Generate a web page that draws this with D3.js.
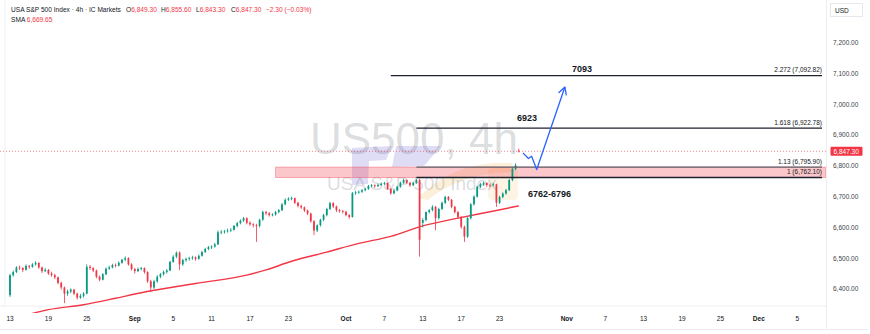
<!DOCTYPE html>
<html>
<head>
<meta charset="utf-8">
<script src="https://cdn.jsdelivr.net/npm/d3@7"></script>
<style>
  html, body { margin: 0; padding: 0; background: #fff; }
  svg { display: block; font-family: "Liberation Sans", Arial, sans-serif; }
</style>
</head>
<body>
<svg id="chart" width="870" height="334"></svg>
<script>
// 4h bars (3 per trading day from Aug 13): [open, high, low, close]
var candles = [
  [6380,6450,6374,6445],[6445,6460,6440,6455],[6455,6474,6452,6470],[6470,6476,6462,6468],
  [6468,6471,6455,6462],[6462,6480,6460,6475],[6475,6478,6465,6472],[6472,6484,6469,6480],
  [6480,6490,6476,6485],[6485,6487,6466,6470],[6470,6473,6452,6458],[6458,6468,6455,6462],
  [6462,6465,6446,6450],[6450,6456,6440,6445],[6445,6450,6432,6438],[6438,6440,6415,6420],
  [6420,6424,6398,6405],[6405,6408,6354,6385],[6385,6398,6378,6392],[6392,6402,6386,6398],
  [6398,6400,6380,6385],[6385,6388,6366,6372],[6372,6384,6368,6378],[6378,6390,6372,6385],
  [6385,6480,6383,6472],[6472,6478,6462,6468],[6468,6471,6455,6460],[6460,6463,6435,6440],
  [6440,6444,6425,6430],[6430,6452,6428,6448],[6448,6470,6445,6466],[6466,6476,6462,6470],
  [6470,6482,6467,6478],[6478,6483,6470,6476],[6476,6490,6473,6485],[6485,6498,6482,6495],
  [6495,6506,6490,6500],[6500,6503,6476,6480],[6480,6484,6460,6465],[6465,6468,6450,6458],
  [6458,6470,6455,6465],[6465,6472,6460,6468],[6468,6470,6450,6455],[6455,6458,6420,6425],
  [6425,6430,6391,6405],[6405,6430,6400,6425],[6425,6445,6420,6440],[6440,6452,6435,6448],
  [6448,6460,6444,6455],[6455,6465,6450,6460],[6460,6492,6458,6488],[6488,6510,6485,6505],
  [6505,6522,6500,6518],[6518,6522,6461,6480],[6480,6498,6475,6494],[6494,6502,6488,6498],
  [6498,6505,6492,6500],[6500,6508,6495,6503],[6503,6506,6492,6498],[6498,6512,6495,6508],
  [6508,6524,6505,6520],[6520,6534,6517,6530],[6530,6540,6526,6536],[6536,6542,6530,6538],
  [6538,6550,6534,6545],[6545,6590,6543,6584],[6584,6592,6578,6586],[6586,6592,6580,6587],
  [6587,6596,6583,6590],[6590,6598,6585,6592],[6592,6608,6590,6605],[6605,6618,6600,6614],
  [6614,6626,6610,6622],[6622,6634,6618,6630],[6630,6633,6610,6615],[6615,6620,6605,6610],
  [6610,6614,6600,6607],[6607,6612,6553,6605],[6605,6628,6600,6625],[6625,6655,6622,6650],
  [6650,6654,6640,6646],[6646,6650,6635,6640],[6640,6646,6636,6642],[6642,6654,6638,6650],
  [6650,6660,6646,6656],[6656,6679,6653,6675],[6675,6694,6672,6690],[6690,6698,6686,6694],
  [6694,6700,6688,6695],[6695,6697,6676,6680],[6680,6683,6665,6670],[6670,6674,6660,6665],
  [6665,6668,6650,6655],[6655,6658,6640,6645],[6645,6648,6615,6620],[6620,6624,6575,6590],
  [6590,6610,6585,6607],[6607,6628,6603,6625],[6625,6644,6620,6640],[6640,6664,6636,6660],
  [6660,6683,6656,6679],[6679,6682,6663,6668],[6668,6671,6650,6656],[6656,6660,6648,6653],
  [6653,6657,6645,6651],[6651,6654,6636,6640],[6640,6643,6628,6634],[6634,6715,6632,6711],
  [6711,6719,6706,6714],[6714,6720,6709,6716],[6716,6725,6712,6721],[6721,6729,6717,6725],
  [6725,6738,6722,6735],[6735,6741,6730,6737],[6737,6740,6729,6734],[6734,6742,6731,6738],
  [6738,6746,6735,6742],[6742,6748,6738,6744],[6744,6746,6722,6725],[6725,6728,6706,6711],
  [6711,6724,6708,6720],[6720,6736,6717,6732],[6732,6749,6729,6745],[6745,6758,6742,6754],
  [6754,6756,6741,6745],[6745,6748,6732,6737],[6737,6749,6734,6745],[6745,6758,6742,6754],
  [6754,6758,6505,6560],[6615,6630,6600,6624],[6624,6652,6620,6650],[6650,6660,6645,6656],
  [6656,6672,6652,6667],[6667,6670,6591,6630],[6630,6664,6626,6660],[6660,6684,6656,6680],
  [6680,6703,6676,6699],[6699,6702,6686,6690],[6690,6692,6662,6667],[6667,6670,6645,6650],
  [6650,6653,6628,6634],[6634,6637,6596,6602],[6602,6606,6553,6570],[6570,6634,6566,6630],
  [6630,6679,6626,6675],[6675,6704,6671,6700],[6700,6736,6697,6732],[6732,6745,6728,6740],
  [6740,6749,6735,6744],[6744,6747,6732,6738],[6738,6742,6730,6737],[6737,6745,6733,6740],
  [6740,6742,6667,6680],[6680,6703,6676,6699],[6699,6714,6695,6710],[6710,6725,6706,6721],
  [6721,6758,6718,6754],[6754,6795,6750,6790],[6790,6808,6786,6802],[6849.3,6855.6,6843.3,6847.3]
];
var barsPerDay = 3;

// SMA, read at a few bars
var smaBars = [0, 12, 23, 33, 41, 58, 74, 80, 88, 99, 109, 119, 129, 140, 150, 159];
var smaValues = [6300, 6333, 6349, 6370, 6388, 6418, 6445, 6462, 6490, 6520, 6548, 6571, 6605, 6630, 6651, 6670];

var priceTicks = [6400, 6500, 6600, 6700, 6800, 6900, 7000, 7100, 7200];
var timeLabels = ["13", "19", "25", "Sep", "5", "11", "17", "23", "Oct", "7", "13", "17", "23", "Nov", "7", "13", "19", "25", "Dec", "5"];
var timeDays = [0, 4, 8, 13, 17, 21, 25, 29, 35, 39, 43, 47, 51, 58, 62, 66, 70, 74, 78, 82];
var monthLabels = ["Sep", "Oct", "Nov", "Dec"];

// fib extension levels
var fibRatios = ["2.272", "1.618", "1.13", "1"];
var fibPrices = [7092.82, 6922.78, 6795.90, 6762.10];
var fibFromBar = [119, 127, 127, 127];
var fibColors = ["#1e222d", "#1e222d", "#5d606b", "#1e222d"];

var zonePrices = [6762, 6796];
var zoneFromBar = 83;

// projected path (bar, price)
var pathBars = [160.3, 162, 163, 164.6, 173.4];
var pathPrices = [6842, 6824, 6831, 6788, 7056];

var noteTexts = ["7093", "6923", "6762-6796"];
var noteBars = [175.6, 158.4, 161.9];
var notePrices = [7093, 6923, 6762];
var noteDy = [-4, -7, 19.5];

var lastPrice = 6847.30;
var lastChange = -2.30, lastChangePct = -0.03;
var smaLast = 6669.65;

var red = "#f23645", green = "#089981", ink = "#131722";
var paneRight = 826, paneBottom = 313;

var svg = d3.select("#chart");

var x = d3.scaleLinear().domain([0, 159]).range([10, 518.8]);
var y = d3.scaleLinear().domain([6400, 7200]).range([289, 42.7]);

svg.append("clipPath").attr("id", "pane")
  .append("rect").attr("x", 0).attr("y", 0).attr("width", paneRight).attr("height", paneBottom);

// frame lines
svg.append("line").attr("x1", 5).attr("x2", 5).attr("y1", 0).attr("y2", 306)
  .attr("stroke", "#f0f1f4");
svg.append("line").attr("x1", 0).attr("x2", paneRight).attr("y1", 306).attr("y2", 306)
  .attr("stroke", "#eceef2");
svg.append("line").attr("x1", paneRight + 0.5).attr("x2", paneRight + 0.5).attr("y1", 0).attr("y2", 330)
  .attr("stroke", "#eceef2");
svg.append("line").attr("x1", 0).attr("x2", 868).attr("y1", 329.5).attr("y2", 329.5)
  .attr("stroke", "#eceef2");

// watermark
var wm = svg.append("g");
wm.append("text").attr("x", 310).attr("y", 154)
  .attr("font-size", 44).attr("fill", "rgba(120,123,134,0.27)")
  .text("US500, 4h");
wm.append("path")
  .attr("d", "M352,148 L392,146 L386,160 L369,161 L368,184 L352,185 Z M396,146 L441,146 L424,166 L392,167 Z")
  .attr("fill", "#6c5fd0").attr("opacity", 0.22);
wm.append("path")
  .attr("d", "M418,198 Q455,160 512,163 L514,172 Q462,172 428,200 Z")
  .attr("fill", "#f5a623").attr("opacity", 0.17);
wm.append("rect").attr("x", 488).attr("y", 168).attr("width", 30).attr("height", 32).attr("rx", 4)
  .attr("fill", "#f5a623").attr("opacity", 0.12);
wm.append("text").attr("x", 327).attr("y", 190)
  .attr("font-size", 19).attr("fill", "rgba(120,123,134,0.27)")
  .text("USA S&P 500 Index");

var pane = svg.append("g").attr("clip-path", "url(#pane)");

// zone
pane.append("rect")
  .attr("x", x(zoneFromBar)).attr("width", paneRight - x(zoneFromBar))
  .attr("y", y(zonePrices[1])).attr("height", y(zonePrices[0]) - y(zonePrices[1]))
  .attr("fill", "rgba(242,54,69,0.28)").attr("stroke", "rgba(242,54,69,0.45)").attr("stroke-width", 0.8);

// last price dotted line
pane.append("line").attr("x1", 0).attr("x2", paneRight)
  .attr("y1", y(lastPrice)).attr("y2", y(lastPrice))
  .attr("stroke", red).attr("stroke-opacity", 0.6).attr("stroke-dasharray", "1,2");

// SMA
var sma = d3.line()
  .x(function(d) { return x(d); })
  .y(function(d, i) { return y(smaValues[i]); })
  .curve(d3.curveMonotoneX);
pane.append("path").attr("d", sma(smaBars))
  .attr("fill", "none").attr("stroke", red).attr("stroke-width", 1.4);

// candles
var bar = pane.selectAll("g.bar").data(candles).enter().append("g").attr("class", "bar")
  .attr("fill", function(d) { return d[3] >= d[0] ? green : red; });
bar.append("rect")
  .attr("x", function(d, i) { return x(i) - 0.4; })
  .attr("width", 0.8)
  .attr("y", function(d) { return y(d[1]); })
  .attr("height", function(d) { return y(d[2]) - y(d[1]); });
bar.append("rect")
  .attr("x", function(d, i) { return x(i) - 0.9; })
  .attr("width", 1.8)
  .attr("y", function(d) { return y(Math.max(d[0], d[3])); })
  .attr("height", function(d) { return Math.max(0.8, Math.abs(y(d[0]) - y(d[3]))); });

// fib levels
fibPrices.forEach(function(p, i) {
  pane.append("line")
    .attr("x1", x(fibFromBar[i])).attr("x2", paneRight - 4)
    .attr("y1", y(p)).attr("y2", y(p))
    .attr("stroke", fibColors[i]).attr("stroke-width", 1.3);
  svg.append("text")
    .attr("x", 822).attr("y", y(p) - 3.5)
    .attr("text-anchor", "end").attr("font-size", 6.5).attr("fill", ink)
    .text(fibRatios[i] + " (" + d3.format(",.2f")(p) + ")");
});

// projected path with arrow head
var pts = pathBars.map(function(b, i) { return [x(b), y(pathPrices[i])]; });
pane.append("path").attr("d", d3.line()(pts))
  .attr("fill", "none").attr("stroke", "#2962ff").attr("stroke-width", 1.3)
  .attr("stroke-linejoin", "round");
var tip = pts[pts.length - 1], from = pts[pts.length - 2];
var ang = Math.atan2(tip[1] - from[1], tip[0] - from[0]);
var head = [[tip[0] - 8 * Math.cos(ang - 0.5), tip[1] - 8 * Math.sin(ang - 0.5)], tip,
            [tip[0] - 8 * Math.cos(ang + 0.5), tip[1] - 8 * Math.sin(ang + 0.5)]];
pane.append("path").attr("d", d3.line()(head))
  .attr("fill", "none").attr("stroke", "#2962ff").attr("stroke-width", 1.3)
  .attr("stroke-linecap", "round").attr("stroke-linejoin", "round");

// notes
noteTexts.forEach(function(t, i) {
  svg.append("text")
    .attr("x", x(noteBars[i])).attr("y", y(notePrices[i]) + noteDy[i])
    .attr("font-size", 9).attr("font-weight", 600).attr("fill", ink)
    .text(t);
});

// price axis
svg.selectAll("text.py").data(priceTicks).enter().append("text").attr("class", "py")
  .attr("x", 833).attr("y", function(d) { return y(d) + 2.3; })
  .attr("font-size", 6.5).attr("fill", "#3b3f4a")
  .text(function(d) { return d3.format(",.2f")(d); });

svg.append("rect").attr("x", 830.5).attr("y", y(lastPrice) - 4.5).attr("width", 32).attr("height", 9)
  .attr("rx", 1).attr("fill", red);
svg.append("text").attr("x", 833.5).attr("y", y(lastPrice) + 2.3)
  .attr("font-size", 6.5).attr("fill", "#fff").text(d3.format(",.2f")(lastPrice));

svg.append("rect").attr("x", 830.5).attr("y", 3.5).attr("width", 32).attr("height", 13)
  .attr("fill", "#fff").attr("stroke", "#e6e8ee");
svg.append("text").attr("x", 835).attr("y", 12.5).attr("font-size", 6.5).attr("fill", ink).text("USD");

// time axis
svg.selectAll("text.tx").data(timeLabels).enter().append("text").attr("class", "tx")
  .attr("x", function(d, i) { return x(timeDays[i] * barsPerDay); })
  .attr("y", 320.5)
  .attr("text-anchor", "middle").attr("font-size", 6.5).attr("fill", ink)
  .attr("font-weight", function(d) { return monthLabels.indexOf(d) >= 0 ? 700 : 400; })
  .text(function(d) { return d; });

// legend
var last = candles[candles.length - 1];
var fmt = d3.format(",.2f");
var head1 = svg.append("g").attr("font-size", 6.6);
head1.append("text").attr("x", 11).attr("y", 11.5).attr("fill", ink).text("USA S&P 500 Index · 4h · IC Markets");
var ohlc = [["O", last[0]], ["H", last[1]], ["L", last[2]], ["C", last[3]]];
ohlc.forEach(function(o, i) {
  var t = head1.append("text").attr("x", 126 + i * 35).attr("y", 11.5);
  t.append("tspan").attr("fill", ink).text(o[0]);
  t.append("tspan").attr("fill", red).text(fmt(o[1]));
});
head1.append("text").attr("x", 266).attr("y", 11.5).attr("fill", red)
  .text(fmt(lastChange) + " (" + fmt(lastChangePct) + "%)");
var l2 = head1.append("text").attr("x", 11).attr("y", 22);
l2.append("tspan").attr("fill", ink).text("SMA ");
l2.append("tspan").attr("fill", red).text(fmt(smaLast));
</script>
</body>
</html>
